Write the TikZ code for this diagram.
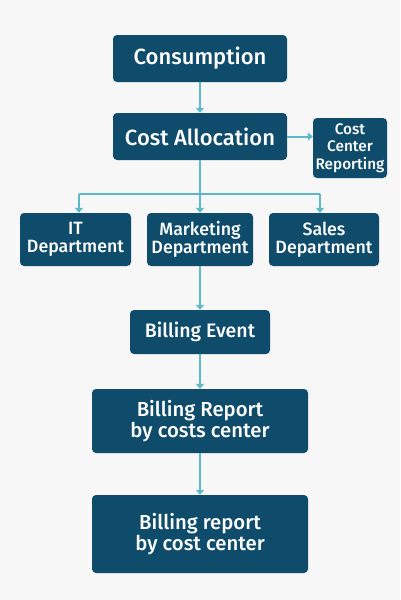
\documentclass[tikz,border=0pt]{standalone}
\usepackage{fontspec}
\setmainfont{Fira Sans Medium}
\usetikzlibrary{arrows.meta}
\definecolor{boxc}{HTML}{0F4C6B}
\definecolor{linec}{HTML}{5DB8C9}
\definecolor{bgc}{HTML}{F7F7F7}
\begin{document}
\begin{tikzpicture}[x=1pt,y=-1pt,
  box/.style={draw=none,fill=boxc,rounded corners=4pt,text=white,align=center,inner sep=0pt},
  conn/.style={draw=linec,line width=2pt,-{Triangle[length=5pt,width=8pt]}},
  plain/.style={draw=linec,line width=2pt}]
\fill[bgc] (0,0) rectangle (400,600);
\useasboundingbox (0,0) rectangle (400,600);
\node[box,minimum width=174pt,minimum height=47pt,font=\fontsize{22}{24}\selectfont] (cons) at (200,58.5) {Consumption};
\node[box,minimum width=174pt,minimum height=47pt,font=\fontsize{22}{24}\selectfont] (alloc) at (200,136.5) {Cost Allocation};
\node[box,minimum width=74pt,minimum height=60pt,font=\fontsize{15.3}{17.5}\selectfont] (ccr) at (350,148) {Cost\\Center\\Reporting};
\node[box,minimum width=111pt,minimum height=53pt,font=\fontsize{17.8}{18}\selectfont] (it) at (75.5,239.5) {IT\\Department};
\node[box,minimum width=106pt,minimum height=53pt,font=\fontsize{17.8}{18}\selectfont] (mkt) at (200,239.5) {Marketing\\Department};
\node[box,minimum width=110pt,minimum height=53pt,font=\fontsize{17.8}{18}\selectfont] (sales) at (324,239.5) {Sales\\Department};
\node[box,minimum width=140pt,minimum height=44pt,font=\fontsize{19.5}{22}\selectfont] (bev) at (200,332) {Billing Event};
\node[box,minimum width=216pt,minimum height=64pt,font=\fontsize{20.3}{20.5}\selectfont] (brep1) at (200,421) {Billing Report\\by costs center};
\node[box,minimum width=216pt,minimum height=78pt,font=\fontsize{20.3}{20.5}\selectfont] (brep2) at (200,534) {Billing report\\by cost center};
\draw[conn] (cons.south) -- (alloc.north);
\draw[conn] (alloc.east) -- (ccr.west |- alloc.east);
\draw[conn] (alloc.south) -- (mkt.north);
\coordinate (bl) at (79,194);
\coordinate (br) at (320,194);
\draw[plain] (bl) -- (br);
\draw[conn] (bl) -- (bl |- it.north);
\draw[conn] (br) -- (br |- sales.north);
\draw[conn] (mkt.south) -- (bev.north);
\draw[conn] (bev.south) -- (brep1.north);
\draw[conn] (brep1.south) -- (brep2.north);
\end{tikzpicture}
\end{document}
